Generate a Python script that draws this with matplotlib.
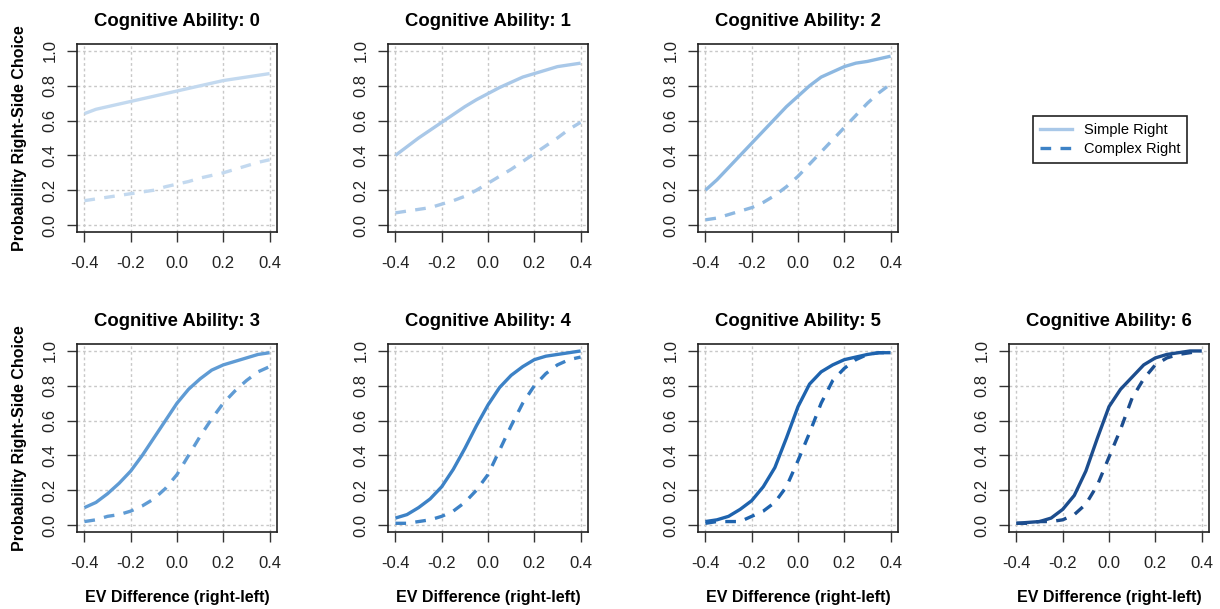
import numpy as np
import matplotlib
matplotlib.use("Agg")
import matplotlib.pyplot as plt
from matplotlib.lines import Line2D

plt.rcParams['font.family'] = ['Liberation Sans', 'DejaVu Sans']

ev_diff = [-0.4, -0.35, -0.3, -0.25, -0.2, -0.15, -0.1, -0.05, 0.0,
           0.05, 0.1, 0.15, 0.2, 0.25, 0.3, 0.35, 0.4]

simple_0 = [0.64, 0.665, 0.68, 0.695, 0.71, 0.725, 0.74, 0.755, 0.77, 0.785, 0.80, 0.815, 0.83, 0.84, 0.85, 0.86, 0.87]
complex_0 = [0.14, 0.15, 0.16, 0.17, 0.18, 0.19, 0.20, 0.22, 0.235, 0.25, 0.27, 0.285, 0.30, 0.32, 0.34, 0.36, 0.375]
simple_1 = [0.40, 0.45, 0.50, 0.545, 0.59, 0.635, 0.68, 0.72, 0.755, 0.79, 0.82, 0.85, 0.87, 0.89, 0.91, 0.92, 0.93]
complex_1 = [0.07, 0.08, 0.09, 0.10, 0.12, 0.14, 0.165, 0.20, 0.24, 0.28, 0.32, 0.365, 0.41, 0.455, 0.50, 0.55, 0.59]
simple_2 = [0.20, 0.26, 0.33, 0.40, 0.47, 0.54, 0.61, 0.68, 0.74, 0.80, 0.85, 0.88, 0.91, 0.93, 0.94, 0.955, 0.97]
complex_2 = [0.03, 0.04, 0.06, 0.08, 0.10, 0.13, 0.17, 0.22, 0.28, 0.35, 0.42, 0.49, 0.56, 0.63, 0.70, 0.76, 0.81]
simple_3 = [0.10, 0.13, 0.18, 0.24, 0.31, 0.40, 0.50, 0.60, 0.70, 0.78, 0.84, 0.89, 0.92, 0.94, 0.96, 0.98, 0.99]
complex_3 = [0.02, 0.03, 0.05, 0.06, 0.08, 0.11, 0.15, 0.21, 0.29, 0.40, 0.51, 0.61, 0.70, 0.77, 0.83, 0.88, 0.91]
simple_4 = [0.04, 0.06, 0.10, 0.15, 0.22, 0.32, 0.44, 0.57, 0.69, 0.79, 0.86, 0.91, 0.95, 0.97, 0.98, 0.99, 1.0]
complex_4 = [0.01, 0.01, 0.02, 0.03, 0.05, 0.08, 0.13, 0.20, 0.29, 0.43, 0.57, 0.70, 0.80, 0.87, 0.92, 0.95, 0.965]
simple_5 = [0.02, 0.03, 0.05, 0.09, 0.14, 0.22, 0.33, 0.50, 0.68, 0.81, 0.88, 0.92, 0.95, 0.965, 0.98, 0.99, 0.99]
complex_5 = [0.01, 0.02, 0.02, 0.02, 0.05, 0.08, 0.13, 0.22, 0.37, 0.53, 0.70, 0.83, 0.90, 0.95, 0.98, 0.99, 0.99]
simple_6 = [0.01, 0.015, 0.02, 0.04, 0.09, 0.17, 0.31, 0.50, 0.68, 0.78, 0.85, 0.92, 0.96, 0.98, 0.99, 1.0, 1.0]
complex_6 = [0.01, 0.01, 0.02, 0.02, 0.03, 0.06, 0.12, 0.23, 0.39, 0.55, 0.73, 0.84, 0.92, 0.96, 0.98, 0.99, 1.0]

simple_all = [simple_0, simple_1, simple_2, simple_3, simple_4, simple_5, simple_6]
complex_all = [complex_0, complex_1, complex_2, complex_3, complex_4, complex_5, complex_6]
colors = ['#c3d9ef', '#a9c8e8', '#8db8e1', '#5f9bd4', '#3d82c6', '#1e63ae', '#1c4d8e']

fig = plt.figure(figsize=(12.2, 6.09), dpi=100)

W, H = 1220, 609
lefts = [77, 388, 698, 1009]
tops = [44, 344]
bw, bh = 200, 188

for k in range(7):
    row = 0 if k < 3 else 1
    col = k if k < 3 else k - 3
    ax = fig.add_axes([lefts[col] / W, 1 - (tops[row] + bh) / H, bw / W, bh / H])
    ax.plot(ev_diff, simple_all[k], color=colors[k], lw=2.4, solid_capstyle='butt')
    ax.plot(ev_diff, complex_all[k], color=colors[k], lw=2.4, dashes=(3.2, 2.8))
    ax.set_xlim(-0.432, 0.432)
    ax.set_ylim(-0.04, 1.04)
    ax.set_xticks([-0.4, -0.2, 0.0, 0.2, 0.4])
    ax.set_xticklabels(['-0.4', '-0.2', '0.0', '0.2', '0.4'])
    ax.set_yticks([0.0, 0.2, 0.4, 0.6, 0.8, 1.0])
    ax.set_yticklabels(['0.0', '0.2', '0.4', '0.6', '0.8', '1.0'], rotation=90, va='center')
    ax.grid(True, color='#c8c8c8', lw=1, linestyle=(0, (2, 2)))
    ax.tick_params(direction='out', length=7, width=1, color='#333333', labelsize=12,
                   labelcolor='#222222')
    ax.tick_params(axis='x', pad=10)
    ax.tick_params(axis='y', pad=7)
    for s in ax.spines.values():
        s.set_linewidth(1.2)
        s.set_color('#222222')
    ax.set_title('Cognitive Ability: %d' % k, fontsize=13.3, fontweight='bold', pad=13)
    if col == 0:
        ax.set_ylabel('Probability Right-Side Choice', fontsize=11.5, fontweight='bold', labelpad=11)
    if row == 1:
        ax.set_xlabel('EV Difference (right-left)', fontsize=11.5, fontweight='bold', labelpad=14)

handles = [Line2D([], [], color='#a9c8e8', lw=2.4),
           Line2D([], [], color='#3d82c6', lw=2.4, dashes=(3.2, 2.8))]
leg = fig.legend(handles, ['Simple Right', 'Complex Right'], loc='center',
                 bbox_to_anchor=(1110 / W, 1 - 139.5 / H), fontsize=10.5,
                 fancybox=False, edgecolor='#222222', framealpha=1,
                 handlelength=2.2, labelspacing=0.35, borderpad=0.5)
leg.get_frame().set_linewidth(1.2)

fig.savefig('out.png', dpi=100)
